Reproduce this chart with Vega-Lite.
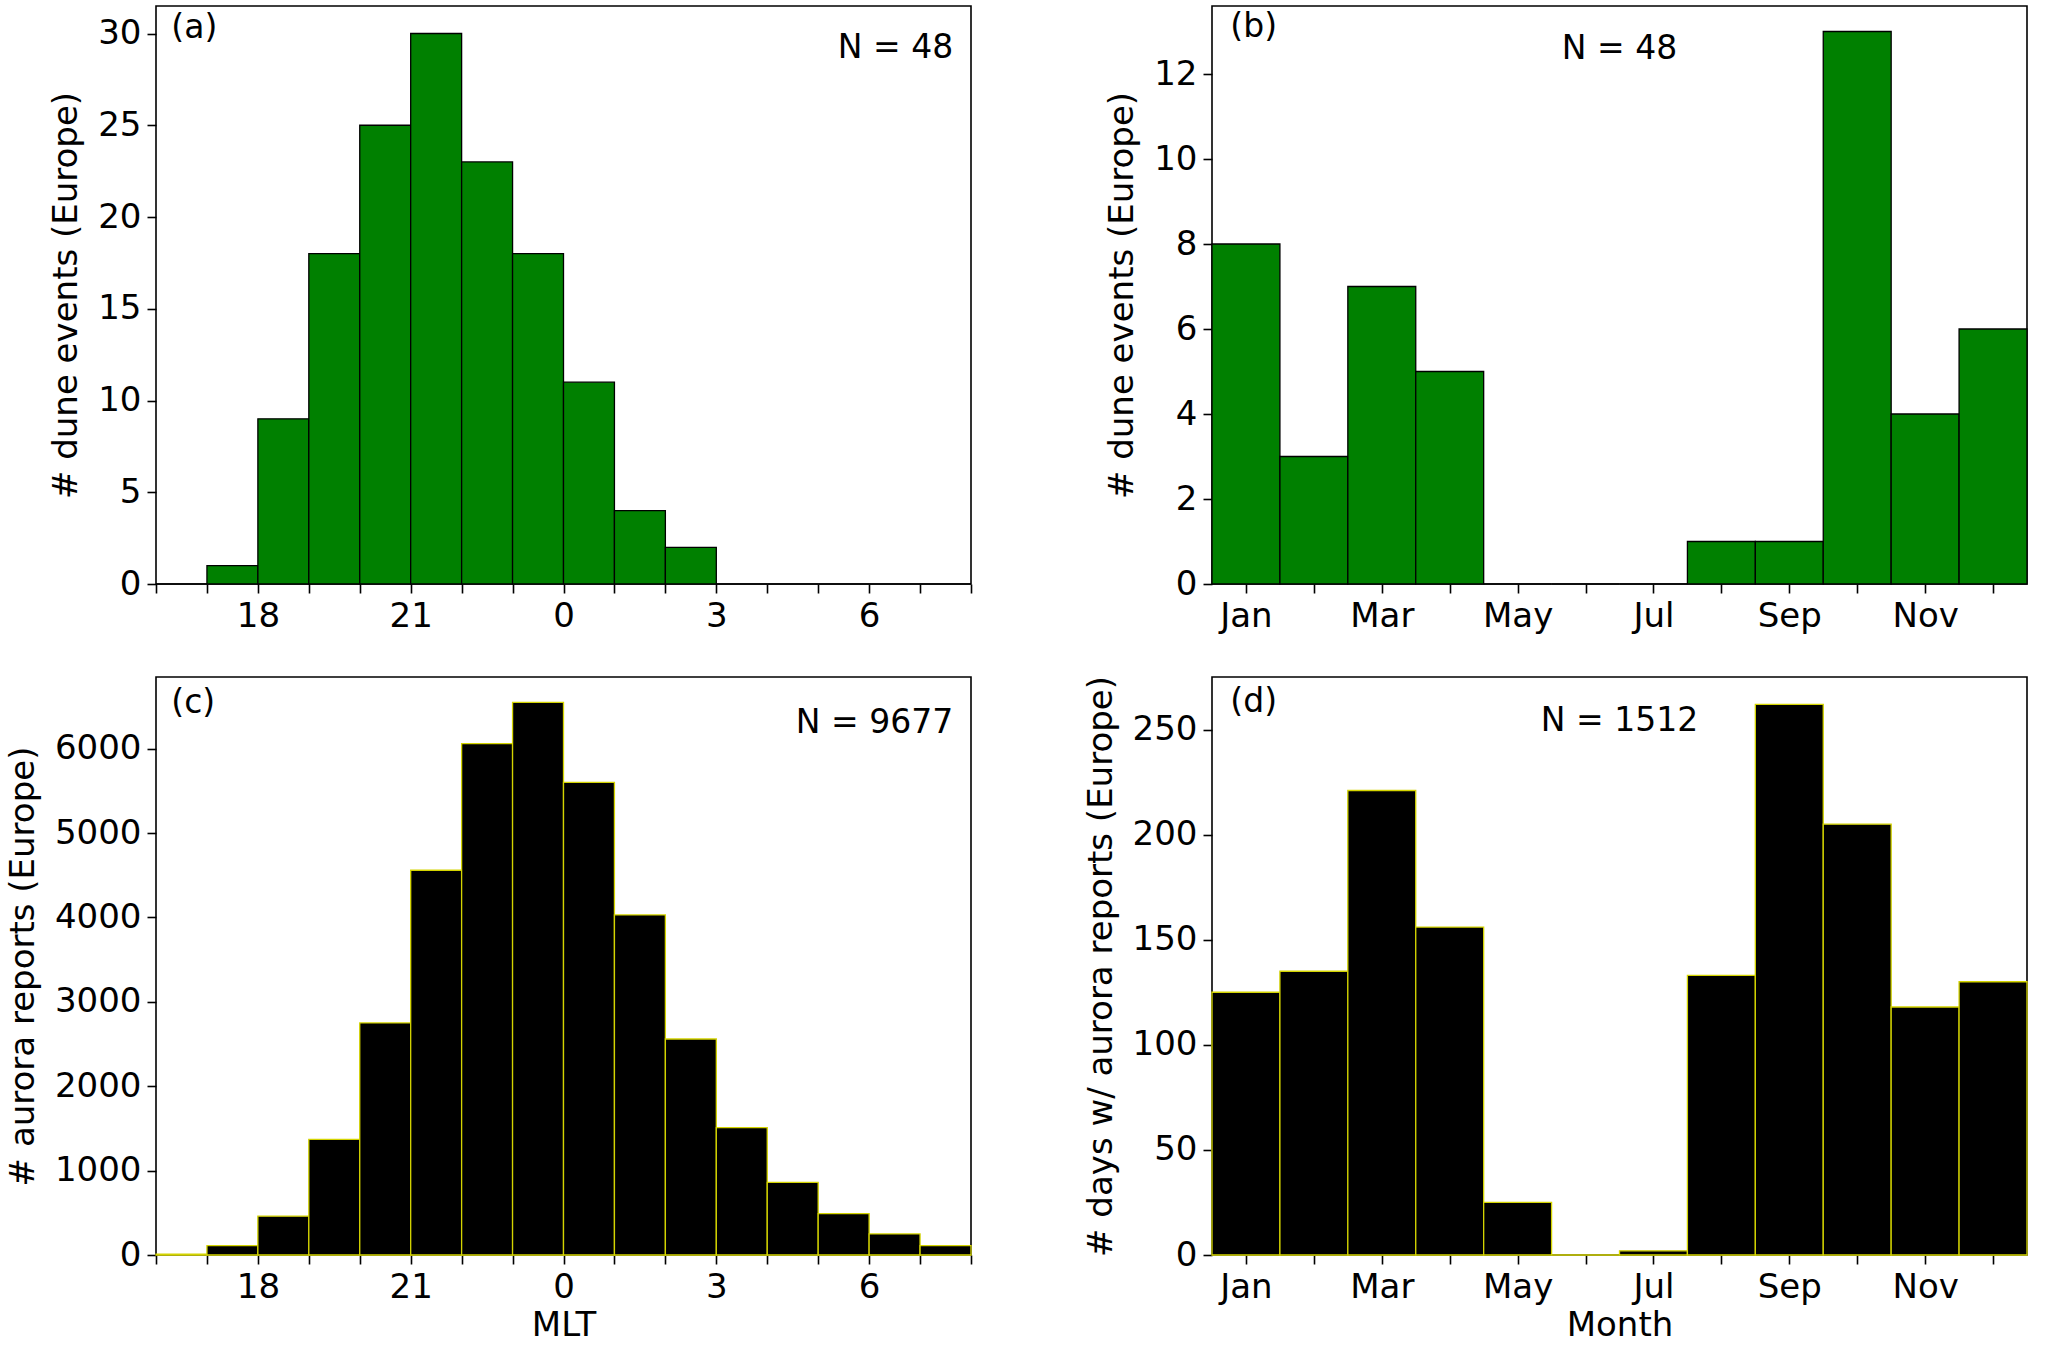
{
  "$schema": "https://vega.github.io/schema/vega-lite/v6.json",
  "background": "#ffffff",
  "padding": {"left": 5, "top": 5, "right": 5, "bottom": 5},
  "columns": 2,
  "spacing": {"row": 40, "column": 110},
  "datasets": {
    "mlt": [
      {"h0": 16, "h1": 17, "dune": 0, "aurora": 10},
      {"h0": 17, "h1": 18, "dune": 1, "aurora": 110},
      {"h0": 18, "h1": 19, "dune": 9, "aurora": 460},
      {"h0": 19, "h1": 20, "dune": 18, "aurora": 1370},
      {"h0": 20, "h1": 21, "dune": 25, "aurora": 2750},
      {"h0": 21, "h1": 22, "dune": 30, "aurora": 4560},
      {"h0": 22, "h1": 23, "dune": 23, "aurora": 6060},
      {"h0": 23, "h1": 24, "dune": 18, "aurora": 6550},
      {"h0": 24, "h1": 25, "dune": 11, "aurora": 5600},
      {"h0": 25, "h1": 26, "dune": 4, "aurora": 4030},
      {"h0": 26, "h1": 27, "dune": 2, "aurora": 2560},
      {"h0": 27, "h1": 28, "dune": 0, "aurora": 1510},
      {"h0": 28, "h1": 29, "dune": 0, "aurora": 860},
      {"h0": 29, "h1": 30, "dune": 0, "aurora": 490},
      {"h0": 30, "h1": 31, "dune": 0, "aurora": 250},
      {"h0": 31, "h1": 32, "dune": 0, "aurora": 110}
    ],
    "month": [
      {"m0": 0, "m1": 1, "dune": 8, "aurora": 125},
      {"m0": 1, "m1": 2, "dune": 3, "aurora": 135},
      {"m0": 2, "m1": 3, "dune": 7, "aurora": 221},
      {"m0": 3, "m1": 4, "dune": 5, "aurora": 156},
      {"m0": 4, "m1": 5, "dune": 0, "aurora": 25},
      {"m0": 5, "m1": 6, "dune": 0, "aurora": 0},
      {"m0": 6, "m1": 7, "dune": 0, "aurora": 2},
      {"m0": 7, "m1": 8, "dune": 1, "aurora": 133},
      {"m0": 8, "m1": 9, "dune": 1, "aurora": 262},
      {"m0": 9, "m1": 10, "dune": 13, "aurora": 205},
      {"m0": 10, "m1": 11, "dune": 4, "aurora": 118},
      {"m0": 11, "m1": 12, "dune": 6, "aurora": 130}
    ]
  },
  "concat": [
    {
      "width": 815, "height": 578,
      "layer": [
        {
          "data": {"name": "mlt"},
          "mark": {"type": "rect", "fill": "#008000", "stroke": "#000000", "strokeWidth": 1.3},
          "encoding": {
            "x": {"field": "h0", "type": "quantitative", "scale": {"domain": [16, 32], "nice": false, "zero": false}, "title": null,
              "axis": {"values": [16,17,18,19,20,21,22,23,24,25,26,27,28,29,30,31,32], "labelExpr": "datum.value % 3 == 0 ? '' + (datum.value % 24) : ''"}},
            "x2": {"field": "h1"},
            "y": {"field": "dune", "type": "quantitative", "scale": {"domain": [0, 31.5], "nice": false}, "title": "# dune events (Europe)",
              "axis": {"values": [0,5,10,15,20,25,30]}},
            "y2": {"datum": 0}
          }
        },
        {
          "data": {"values": [{"x": 16.3, "y": 30.3, "t": "(a)"}]},
          "mark": {"type": "text", "align": "left", "baseline": "middle", "fontSize": 33, "font": "DejaVu Sans"},
          "encoding": {"x": {"field": "x", "type": "quantitative"}, "y": {"field": "y", "type": "quantitative"}, "text": {"field": "t"}}
        },
        {
          "data": {"values": [{"x": 31.65, "y": 29.2, "t": "N = 48"}]},
          "mark": {"type": "text", "align": "right", "baseline": "middle", "fontSize": 33, "font": "DejaVu Sans"},
          "encoding": {"x": {"field": "x", "type": "quantitative"}, "y": {"field": "y", "type": "quantitative"}, "text": {"field": "t"}}
        }
      ]
    },
    {
      "width": 815, "height": 578,
      "layer": [
        {
          "data": {"name": "month"},
          "mark": {"type": "rect", "fill": "#008000", "stroke": "#000000", "strokeWidth": 1.3},
          "encoding": {
            "x": {"field": "m0", "type": "quantitative", "scale": {"domain": [0, 12], "nice": false}, "title": null,
              "axis": {"values": [0.5,1.5,2.5,3.5,4.5,5.5,6.5,7.5,8.5,9.5,10.5,11.5], "labelExpr": "['Jan','','Mar','','May','','Jul','','Sep','','Nov',''][floor(datum.value)]"}},
            "x2": {"field": "m1"},
            "y": {"field": "dune", "type": "quantitative", "scale": {"domain": [0, 13.6], "nice": false}, "title": "# dune events (Europe)",
              "axis": {"values": [0,2,4,6,8,10,12]}},
            "y2": {"datum": 0}
          }
        },
        {
          "data": {"values": [{"x": 0.27, "y": 13.1, "t": "(b)"}]},
          "mark": {"type": "text", "align": "left", "baseline": "middle", "fontSize": 33, "font": "DejaVu Sans"},
          "encoding": {"x": {"field": "x", "type": "quantitative"}, "y": {"field": "y", "type": "quantitative"}, "text": {"field": "t"}}
        },
        {
          "data": {"values": [{"x": 6.0, "y": 12.6, "t": "N = 48"}]},
          "mark": {"type": "text", "align": "center", "baseline": "middle", "fontSize": 33, "font": "DejaVu Sans"},
          "encoding": {"x": {"field": "x", "type": "quantitative"}, "y": {"field": "y", "type": "quantitative"}, "text": {"field": "t"}}
        }
      ]
    },
    {
      "width": 815, "height": 578,
      "layer": [
        {
          "data": {"name": "mlt"},
          "mark": {"type": "rect", "fill": "#000000", "stroke": "#d4d400", "strokeWidth": 1.3},
          "encoding": {
            "x": {"field": "h0", "type": "quantitative", "scale": {"domain": [16, 32], "nice": false, "zero": false}, "title": "MLT",
              "axis": {"values": [16,17,18,19,20,21,22,23,24,25,26,27,28,29,30,31,32], "labelExpr": "datum.value % 3 == 0 ? '' + (datum.value % 24) : ''"}},
            "x2": {"field": "h1"},
            "y": {"field": "aurora", "type": "quantitative", "scale": {"domain": [0, 6850], "nice": false}, "title": "# aurora reports (Europe)",
              "axis": {"values": [0,1000,2000,3000,4000,5000,6000], "format": "d"}},
            "y2": {"datum": 0}
          }
        },
        {
          "data": {"values": [{"x": 16.3, "y": 6540, "t": "(c)"}]},
          "mark": {"type": "text", "align": "left", "baseline": "middle", "fontSize": 33, "font": "DejaVu Sans"},
          "encoding": {"x": {"field": "x", "type": "quantitative"}, "y": {"field": "y", "type": "quantitative"}, "text": {"field": "t"}}
        },
        {
          "data": {"values": [{"x": 31.65, "y": 6310, "t": "N = 9677"}]},
          "mark": {"type": "text", "align": "right", "baseline": "middle", "fontSize": 33, "font": "DejaVu Sans"},
          "encoding": {"x": {"field": "x", "type": "quantitative"}, "y": {"field": "y", "type": "quantitative"}, "text": {"field": "t"}}
        }
      ]
    },
    {
      "width": 815, "height": 578,
      "layer": [
        {
          "data": {"name": "month"},
          "mark": {"type": "rect", "fill": "#000000", "stroke": "#d4d400", "strokeWidth": 1.3},
          "encoding": {
            "x": {"field": "m0", "type": "quantitative", "scale": {"domain": [0, 12], "nice": false}, "title": "Month",
              "axis": {"values": [0.5,1.5,2.5,3.5,4.5,5.5,6.5,7.5,8.5,9.5,10.5,11.5], "labelExpr": "['Jan','','Mar','','May','','Jul','','Sep','','Nov',''][floor(datum.value)]"}},
            "x2": {"field": "m1"},
            "y": {"field": "aurora", "type": "quantitative", "scale": {"domain": [0, 275], "nice": false}, "title": "# days w/ aurora reports (Europe)",
              "axis": {"values": [0,50,100,150,200,250]}},
            "y2": {"datum": 0}
          }
        },
        {
          "data": {"values": [{"x": 0.27, "y": 263, "t": "(d)"}]},
          "mark": {"type": "text", "align": "left", "baseline": "middle", "fontSize": 33, "font": "DejaVu Sans"},
          "encoding": {"x": {"field": "x", "type": "quantitative"}, "y": {"field": "y", "type": "quantitative"}, "text": {"field": "t"}}
        },
        {
          "data": {"values": [{"x": 6.0, "y": 254, "t": "N = 1512"}]},
          "mark": {"type": "text", "align": "center", "baseline": "middle", "fontSize": 33, "font": "DejaVu Sans"},
          "encoding": {"x": {"field": "x", "type": "quantitative"}, "y": {"field": "y", "type": "quantitative"}, "text": {"field": "t"}}
        }
      ]
    }
  ],
  "config": {
    "view": {"stroke": "#000000", "strokeWidth": 1.6},
    "axis": {
      "grid": false, "domain": false,
      "labelFont": "DejaVu Sans", "labelFontSize": 34, "labelColor": "#000000",
      "titleFont": "DejaVu Sans", "titleFontSize": 34, "titleFontWeight": "normal", "titleColor": "#000000",
      "tickColor": "#000000", "tickSize": 9, "tickWidth": 1.6, "labelPadding": 6, "labelFlush": false, "labelOverlap": false
    },
    "axisY": {"titlePadding": 14}
  }
}
